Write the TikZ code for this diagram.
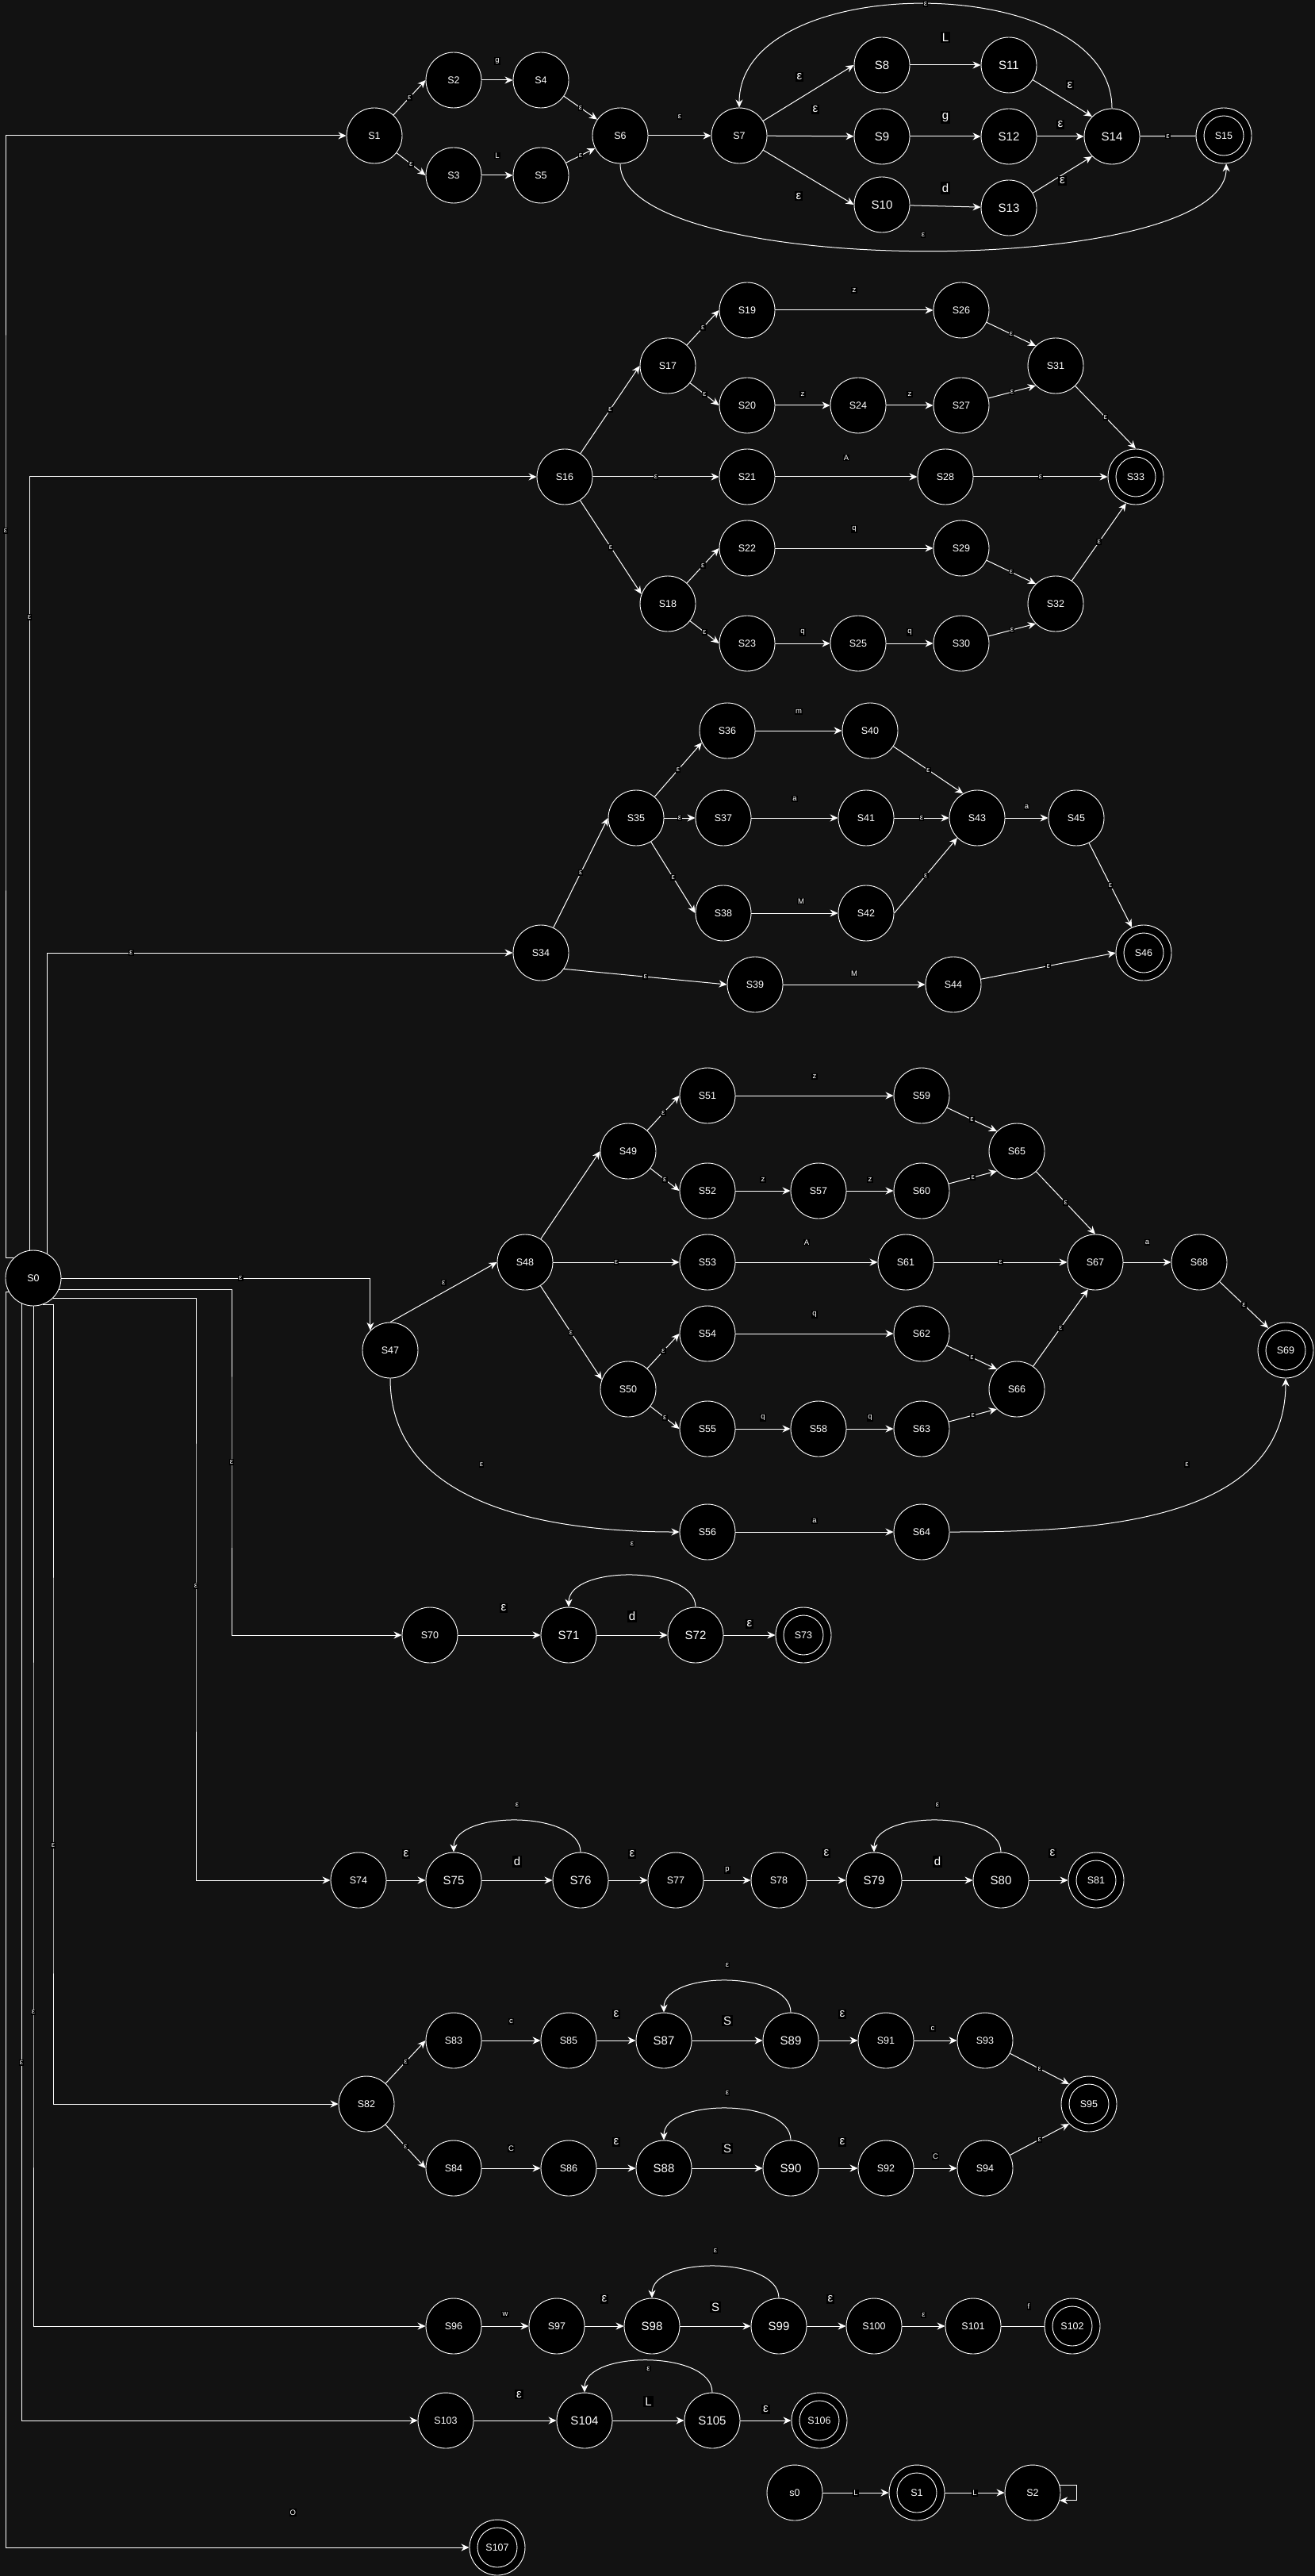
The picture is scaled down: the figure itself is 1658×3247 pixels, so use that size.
\documentclass[tikz,border=0pt]{standalone}
\usepackage{fontspec}
\setmainfont{Liberation Sans}
\usetikzlibrary{arrows.meta}
\definecolor{bgdark}{HTML}{121212}
\tikzset{
  stnode/.style={circle, draw=white, fill=black, text=white, minimum size=35pt, inner sep=0pt, line width=0.45pt, font=\fontsize{6.25}{7}\selectfont},
  bigstnode/.style={stnode, font=\fontsize{7.5}{9}\selectfont},
  accept/.style={stnode, path picture={\draw[white, line width=0.45pt] (path picture bounding box.center) circle (12.5pt);}},
  arr/.style={white, line width=0.5pt, -{Stealth[length=5pt, width=4.5pt]}},
  wire/.style={white, line width=0.5pt},
  lbl/.style={fill=black, text=white, inner sep=0.6pt, font=\fontsize{4.75}{5}\selectfont},
  biglbl/.style={lbl, inner sep=1pt, font=\fontsize{7.5}{8}\selectfont}
}
\begin{document}
\begin{tikzpicture}[x=0.5pt, y=0.5pt]
                        \useasboundingbox (0,0) rectangle (1658,-3247);
                        \fill[bgdark] (0,0) rectangle (1658,-3247);

                        \node[stnode] (S0) at (42,-1611) {S0};

                        \node[stnode] (S1) at (472,-171) {S1};
                        \node[stnode] (S2) at (572,-101) {S2};
                        \node[stnode] (S3) at (572,-221) {S3};
                        \node[stnode] (S4) at (682,-101) {S4};
                        \node[stnode] (S5) at (682,-221) {S5};
                        \node[stnode] (S6) at (782,-171) {S6};
                        \node[stnode] (S7) at (932,-171) {S7};
                        \node[bigstnode] (S8) at (1112,-82) {S8};
                        \node[bigstnode] (S9) at (1112,-172) {S9};
                        \node[bigstnode] (S10) at (1112,-258) {S10};
                        \node[bigstnode] (S11) at (1272,-82) {S11};
                        \node[bigstnode] (S12) at (1272,-172) {S12};
                        \node[bigstnode] (S13) at (1272,-262) {S13};
                        \node[bigstnode] (S14) at (1402,-172) {S14};
                        \node[accept] (S15) at (1543,-171) {S15};

                        \node[stnode] (S16) at (712,-601) {S16};
                        \node[stnode] (S17) at (842,-461) {S17};
                        \node[stnode] (S18) at (842,-761) {S18};
                        \node[stnode] (S19) at (942,-391) {S19};
                        \node[stnode] (S20) at (942,-511) {S20};
                        \node[stnode] (S21) at (942,-601) {S21};
                        \node[stnode] (S22) at (942,-691) {S22};
                        \node[stnode] (S23) at (942,-811) {S23};
                        \node[stnode] (S24) at (1082,-511) {S24};
                        \node[stnode] (S25) at (1082,-811) {S25};
                        \node[stnode] (S26) at (1212,-391) {S26};
                        \node[stnode] (S27) at (1212,-511) {S27};
                        \node[stnode] (S28) at (1192,-601) {S28};
                        \node[stnode] (S29) at (1212,-691) {S29};
                        \node[stnode] (S30) at (1212,-811) {S30};
                        \node[stnode] (S31) at (1331,-461) {S31};
                        \node[stnode] (S32) at (1331,-761) {S32};
                        \node[accept] (S33) at (1432,-601) {S33};

                        \node[stnode] (S34) at (682,-1201) {S34};
                        \node[stnode] (S35) at (802,-1031) {S35};
                        \node[stnode] (S36) at (917,-921) {S36};
                        \node[stnode] (S37) at (912,-1031) {S37};
                        \node[stnode] (S38) at (912,-1151) {S38};
                        \node[stnode] (S39) at (952,-1241) {S39};
                        \node[stnode] (S40) at (1097,-921) {S40};
                        \node[stnode] (S41) at (1092,-1031) {S41};
                        \node[stnode] (S42) at (1092,-1151) {S42};
                        \node[stnode] (S43) at (1232,-1031) {S43};
                        \node[stnode] (S44) at (1202,-1241) {S44};
                        \node[stnode] (S45) at (1357,-1031) {S45};
                        \node[accept] (S46) at (1442,-1201) {S46};

                        \node[stnode] (S47) at (492,-1702) {S47};
                        \node[stnode] (S48) at (662,-1591) {S48};
                        \node[stnode] (S49) at (792,-1451) {S49};
                        \node[stnode] (S50) at (792,-1751) {S50};
                        \node[stnode] (S51) at (892,-1381) {S51};
                        \node[stnode] (S52) at (892,-1501) {S52};
                        \node[stnode] (S53) at (892,-1591) {S53};
                        \node[stnode] (S54) at (892,-1681) {S54};
                        \node[stnode] (S55) at (892,-1801) {S55};
                        \node[stnode] (S56) at (892,-1931) {S56};
                        \node[stnode] (S57) at (1032,-1501) {S57};
                        \node[stnode] (S58) at (1032,-1801) {S58};
                        \node[stnode] (S59) at (1162,-1381) {S59};
                        \node[stnode] (S60) at (1162,-1501) {S60};
                        \node[stnode] (S61) at (1142,-1591) {S61};
                        \node[stnode] (S62) at (1162,-1681) {S62};
                        \node[stnode] (S63) at (1162,-1801) {S63};
                        \node[stnode] (S64) at (1162,-1931) {S64};
                        \node[stnode] (S65) at (1282,-1451) {S65};
                        \node[stnode] (S66) at (1282,-1751) {S66};
                        \node[stnode] (S67) at (1381,-1591) {S67};
                        \node[stnode] (S68) at (1512,-1591) {S68};
                        \node[accept] (S69) at (1621,-1702) {S69};

                        \node[stnode] (S70) at (542,-2061) {S70};
                        \node[bigstnode] (S71) at (717,-2061) {S71};
                        \node[bigstnode] (S72) at (877,-2061) {S72};
                        \node[accept] (S73) at (1013,-2061) {S73};

                        \node[stnode] (S74) at (452,-2370) {S74};
                        \node[bigstnode] (S75) at (572,-2370) {S75};
                        \node[bigstnode] (S76) at (732,-2370) {S76};
                        \node[stnode] (S77) at (852,-2370) {S77};
                        \node[stnode] (S78) at (982,-2370) {S78};
                        \node[bigstnode] (S79) at (1102,-2370) {S79};
                        \node[bigstnode] (S80) at (1262,-2370) {S80};
                        \node[accept] (S81) at (1382,-2370) {S81};

                        \node[stnode] (S82) at (462,-2652) {S82};
                        \node[stnode] (S83) at (572,-2572) {S83};
                        \node[stnode] (S85) at (717,-2572) {S85};
                        \node[bigstnode] (S87) at (837,-2572) {S87};
                        \node[bigstnode] (S89) at (997,-2572) {S89};
                        \node[stnode] (S91) at (1117,-2572) {S91};
                        \node[stnode] (S93) at (1242,-2572) {S93};
                        \node[accept] (S95) at (1373,-2652) {S95};
                        \node[stnode] (S84) at (572,-2733) {S84};
                        \node[stnode] (S86) at (717,-2733) {S86};
                        \node[bigstnode] (S88) at (837,-2733) {S88};
                        \node[bigstnode] (S90) at (997,-2733) {S90};
                        \node[stnode] (S92) at (1117,-2733) {S92};
                        \node[stnode] (S94) at (1242,-2733) {S94};

                        \node[stnode] (S96) at (572,-2932) {S96};
                        \node[stnode] (S97) at (702,-2932) {S97};
                        \node[bigstnode] (S98) at (822,-2932) {S98};
                        \node[bigstnode] (S99) at (982,-2932) {S99};
                        \node[stnode] (S100) at (1102,-2932) {S100};
                        \node[stnode] (S101) at (1227,-2932) {S101};
                        \node[accept] (S102) at (1352,-2932) {S102};

                        \node[stnode] (S103) at (562,-3051) {S103};
                        \node[bigstnode] (S104) at (737,-3051) {S104};
                        \node[bigstnode] (S105) at (898,-3051) {S105};
                        \node[accept] (S106) at (1033,-3051) {S106};

                        \node[stnode] (s0) at (1002,-3142) {s0};
                        \node[accept] (S1b) at (1156,-3142) {S1};
                        \node[stnode] (S2b) at (1302,-3142) {S2};
                        \node[accept] (S107) at (627,-3211) {S107};

                        \draw[arr] (S0.north west) -| (7,-669) node[lbl] {ε} |- (S1);
                        \draw[arr] (S0.98) -- ++(0,798) node[lbl] {ε} |- (S16);
                        \draw[arr] (S0.60) |- node[lbl, pos=0.59] {ε} (S34);
                        \draw[arr] (S0.east) -| node[lbl, pos=0.29] {ε} (S47.135);
                        \draw[arr] (S0.-25) -| (292,-1843) node[lbl] {ε} |- (S70);
                        \draw[arr] (S0.-45) -| (247,-1999) node[lbl] {ε} |- (S74);
                        \draw[arr] (S0.-70) -| (67,-2326) node[lbl] {ε} |- (S82);
                        \draw[arr] (S0.south) -- ++(0,-890) node[lbl] {ε} |- (S96);
                        \draw[arr] (S0.-115) -- ++(0,-957) node[lbl] {ε} |- (S103);
                        \draw[arr] (S0.-150) -| (7,-3211) -- node[lbl, pos=0.62, yshift=22pt] {O} (S107);

                        \draw[arr] (S1) -- node[lbl] {ε} (S2.west);
                        \draw[arr] (S1) -- node[lbl] {ε} (S3.west);
                        \draw[arr] (S2) -- node[lbl, yshift=12pt] {g} (S4);
                        \draw[arr] (S3) -- node[lbl, yshift=12.5pt] {L} (S5);
                        \draw[arr] (S4) -- node[lbl] {ε} (S6);
                        \draw[arr] (S5) -- node[lbl] {ε} (S6);
                        \draw[arr] (S6) -- node[lbl, yshift=12pt] {ε} (S7);
                        \draw[arr] (S7) -- node[biglbl, xshift=-5.75pt, yshift=10.25pt] {ε} (S8.west);
                        \draw[arr] (S7) -- node[biglbl, xshift=3pt, yshift=16.75pt] {ε} (S9);
                        \draw[arr] (S7) -- node[biglbl, xshift=-6.25pt, yshift=-11.75pt] {ε} (S10.west);
                        \draw[arr] (S8) -- node[biglbl, yshift=17.5pt] {L} (S11);
                        \draw[arr] (S9) -- node[biglbl, yshift=12pt] {g} (S12);
                        \draw[arr] (S10) -- node[biglbl, yshift=11.5pt] {d} (S13);
                        \draw[arr] (S11) -- node[biglbl, xshift=4.75pt, yshift=8.25pt] {ε} (S14.north west);
                        \draw[arr] (S12) -- node[biglbl, yshift=7.5pt] {ε} (S14);
                        \draw[arr] (S13) -- node[biglbl, yshift=-3.85pt] {ε} (S14.south west);
                        \draw[wire] (S14) -- node[lbl] {ε} (S15);
                        \draw[arr] (S14.north) to[out=90, in=90, looseness=0.95] node[lbl] {ε} (S7.north);
                        \draw[arr] (S6.south) to[out=-90, in=-90, looseness=0.49] node[lbl, yshift=10pt] {ε} (S15.-85);

                        \draw[arr] (S16) -- node[lbl] {ε} (S17.west);
                        \draw[arr] (S16) -- node[lbl] {ε} (S21);
                        \draw[arr] (S16) -- node[lbl] {ε} (S18.160);
                        \draw[arr] (S17) -- node[lbl] {ε} (S19.west);
                        \draw[arr] (S17) -- node[lbl] {ε} (S20.west);
                        \draw[arr] (S18) -- node[lbl] {ε} (S22.west);
                        \draw[arr] (S18) -- node[lbl] {ε} (S23.west);
                        \draw[arr] (S19) -- node[lbl, yshift=12.5pt] {z} (S26);
                        \draw[arr] (S20) -- node[lbl, yshift=7pt] {z} (S24);
                        \draw[arr] (S24) -- node[lbl, yshift=7pt] {z} (S27);
                        \draw[arr] (S21) -- node[lbl, yshift=12pt] {A} (S28);
                        \draw[arr] (S22) -- node[lbl, yshift=12pt] {q} (S29);
                        \draw[arr] (S23) -- node[lbl, yshift=7pt] {q} (S25);
                        \draw[arr] (S25) -- node[lbl, yshift=7pt] {q} (S30);
                        \draw[arr] (S26) -- node[lbl] {ε} (S31.north west);
                        \draw[arr] (S27) -- node[lbl] {ε} (S31.south west);
                        \draw[arr] (S29) -- node[lbl] {ε} (S32.north west);
                        \draw[arr] (S30) -- node[lbl] {ε} (S32.south west);
                        \draw[arr] (S31) -- node[lbl] {ε} (S33.north);
                        \draw[arr] (S28) -- node[lbl] {ε} (S33);
                        \draw[arr] (S32) -- node[lbl] {ε} (S33.-110);

                        \draw[arr] (S34) -- node[lbl] {ε} (S35.west);
                        \draw[arr] (S34.-35) -- node[lbl] {ε} (S39.west);
                        \draw[arr] (S35) -- node[lbl] {ε} (S36.205);
                        \draw[arr] (S35) -- node[lbl] {ε} (S37);
                        \draw[arr] (S35) -- node[lbl] {ε} (S38.west);
                        \draw[arr] (S36) -- node[lbl, yshift=12pt] {m} (S40);
                        \draw[arr] (S37) -- node[lbl, yshift=12pt] {a} (S41);
                        \draw[arr] (S38) -- node[lbl, xshift=4pt, yshift=7.5pt] {M} (S42);
                        \draw[arr] (S39) -- node[lbl, yshift=7pt] {M} (S44);
                        \draw[arr] (S40) -- node[lbl] {ε} (S43.120);
                        \draw[arr] (S41) -- node[lbl] {ε} (S43);
                        \draw[arr] (S42.east) -- node[lbl] {ε} (S43.-135);
                        \draw[arr] (S43) -- node[lbl, yshift=7pt] {a} (S45);
                        \draw[arr] (S45) -- node[lbl] {ε} (S46.115);
                        \draw[arr] (S44) -- node[lbl] {ε} (S46.west);

                        \draw[arr] (S47.north) -- node[lbl, yshift=6pt] {ε} (S48.west);
                        \draw[arr] (S47.south) to[out=-90, in=180, looseness=1] node[lbl, pos=0.35, xshift=25.5pt, yshift=8.75pt] {ε} (S56.west);
                        \draw[arr] (S48) -- (S49.west);
                        \draw[arr] (S48) -- node[lbl] {ε} (S53);
                        \draw[arr] (S48) -- node[lbl] {ε} (S50.160);
                        \draw[arr] (S49) -- node[lbl] {ε} (S51.west);
                        \draw[arr] (S49) -- node[lbl] {ε} (S52.west);
                        \draw[arr] (S50) -- node[lbl] {ε} (S54.west);
                        \draw[arr] (S50) -- node[lbl] {ε} (S55.west);
                        \draw[arr] (S51) -- node[lbl, yshift=12pt] {z} (S59);
                        \draw[arr] (S52) -- node[lbl, yshift=7pt] {z} (S57);
                        \draw[arr] (S57) -- node[lbl, yshift=7pt] {z} (S60);
                        \draw[arr] (S53) -- node[lbl, yshift=12.5pt] {A} (S61);
                        \draw[arr] (S54) -- node[lbl, yshift=12pt] {q} (S62);
                        \draw[arr] (S55) -- node[lbl, yshift=7pt] {q} (S58);
                        \draw[arr] (S58) -- node[lbl, yshift=7pt] {q} (S63);
                        \draw[arr] (S59) -- node[lbl] {ε} (S65.north west);
                        \draw[arr] (S60) -- node[lbl] {ε} (S65.south west);
                        \draw[arr] (S62) -- node[lbl] {ε} (S66.north west);
                        \draw[arr] (S63) -- node[lbl] {ε} (S66.south west);
                        \draw[arr] (S65) -- node[lbl] {ε} (S67.north);
                        \draw[arr] (S61) -- node[lbl] {ε} (S67);
                        \draw[arr] (S66) -- node[lbl] {ε} (S67.-105);
                        \draw[arr] (S67) -- node[lbl, yshift=12.5pt] {a} (S68);
                        \draw[arr] (S68) -- node[lbl] {ε} (S69.128);
                        \draw[arr] (S56) -- node[lbl, yshift=7pt] {a} (S64);
                        \draw[arr] (S64.east) to[out=0, in=-90, looseness=1] node[lbl, pos=0.6, xshift=-14pt, yshift=19pt] {ε} (S69.south);

                        \draw[arr] (S70) -- node[biglbl, xshift=2.75pt, yshift=17pt] {ε} (S71);
                        \draw[arr] (S71) -- node[biglbl, yshift=12pt] {d} (S72);
                        \draw[arr] (S72) -- node[biglbl, yshift=7pt] {ε} (S73);
                        \draw[arr] (S72.north) to[out=90, in=90, looseness=0.85] node[lbl, yshift=20pt] {ε} (S71.north);

                        \draw[arr] (S74) -- node[biglbl, yshift=16.5pt] {ε} (S75);
                        \draw[arr] (S75) -- node[biglbl, yshift=12pt] {d} (S76);
                        \draw[arr] (S76) -- node[biglbl, xshift=2.5pt, yshift=16.5pt] {ε} (S77);
                        \draw[arr] (S77) -- node[lbl, yshift=6.5pt] {p} (S78);
                        \draw[arr] (S78) -- node[biglbl, yshift=17pt] {ε} (S79);
                        \draw[arr] (S79) -- node[biglbl, yshift=12pt] {d} (S80);
                        \draw[arr] (S80) -- node[biglbl, xshift=2.5pt, yshift=17pt] {ε} (S81);
                        \draw[arr] (S76.north) to[out=90, in=90, looseness=0.85] node[lbl, yshift=10pt] {ε} (S75.north);
                        \draw[arr] (S80.north) to[out=90, in=90, looseness=0.85] node[lbl, yshift=10pt] {ε} (S79.north);

                        \draw[arr] (S82) -- node[lbl] {ε} (S83.west);
                        \draw[arr] (S82) -- node[lbl] {ε} (S84.west);
                        \draw[arr] (S83) -- node[lbl, yshift=12pt] {c} (S85);
                        \draw[arr] (S85) -- node[biglbl, yshift=16.5pt] {ε} (S87);
                        \draw[arr] (S87) -- node[biglbl, yshift=12.5pt] {S} (S89);
                        \draw[arr] (S89) -- node[biglbl, xshift=2.5pt, yshift=16.5pt] {ε} (S91);
                        \draw[arr] (S91) -- node[lbl, xshift=-1.75pt, yshift=7.5pt] {c} (S93);
                        \draw[arr] (S93) -- node[lbl] {ε} (S95.north west);
                        \draw[arr] (S84) -- node[lbl, yshift=12.5pt] {C} (S86);
                        \draw[arr] (S86) -- node[biglbl, yshift=16.5pt] {ε} (S88);
                        \draw[arr] (S88) -- node[biglbl, yshift=12.5pt] {S} (S90);
                        \draw[arr] (S90) -- node[biglbl, xshift=2.5pt, yshift=16.5pt] {ε} (S92);
                        \draw[arr] (S92) -- node[lbl, yshift=7.5pt] {C} (S94);
                        \draw[arr] (S94) -- node[lbl] {ε} (S95.south west);
                        \draw[arr] (S89.north) to[out=90, in=90, looseness=0.85] node[lbl, yshift=10pt] {ε} (S87.north);
                        \draw[arr] (S90.north) to[out=90, in=90, looseness=0.85] node[lbl, yshift=10pt] {ε} (S88.north);

                        \draw[arr] (S96) -- node[lbl, yshift=7.5pt] {w} (S97);
                        \draw[arr] (S97) -- node[biglbl, yshift=17pt] {ε} (S98);
                        \draw[arr] (S98) -- node[biglbl, yshift=12pt] {S} (S99);
                        \draw[arr] (S99) -- node[biglbl, xshift=2.5pt, yshift=17pt] {ε} (S100);
                        \draw[arr] (S100) -- node[lbl, yshift=7pt] {ε} (S101);
                        \draw[wire] (S101) -- node[lbl, xshift=3.75pt, yshift=12.5pt] {f} (S102);
                        \draw[arr] (S99.north) to[out=90, in=90, looseness=0.85] node[lbl, yshift=10pt] {ε} (S98.north);

                        \draw[arr] (S103) -- node[biglbl, xshift=2.5pt, yshift=16.5pt] {ε} (S104);
                        \draw[arr] (S104) -- node[biglbl, yshift=12pt] {L} (S105);
                        \draw[arr] (S105) -- node[biglbl, yshift=7pt] {ε} (S106);
                        \draw[arr] (S105.north) to[out=90, in=90, looseness=0.85] node[lbl, yshift=-5pt] {ε} (S104.north);

                        \draw[arr] (s0) -- node[lbl] {L} (S1b);
                        \draw[arr] (S1b) -- node[lbl] {L} (S2b);
                        \draw[arr] (S2b.16) -- ++(21,0) |- (S2b.-16);
                    \end{tikzpicture}
\end{document}
